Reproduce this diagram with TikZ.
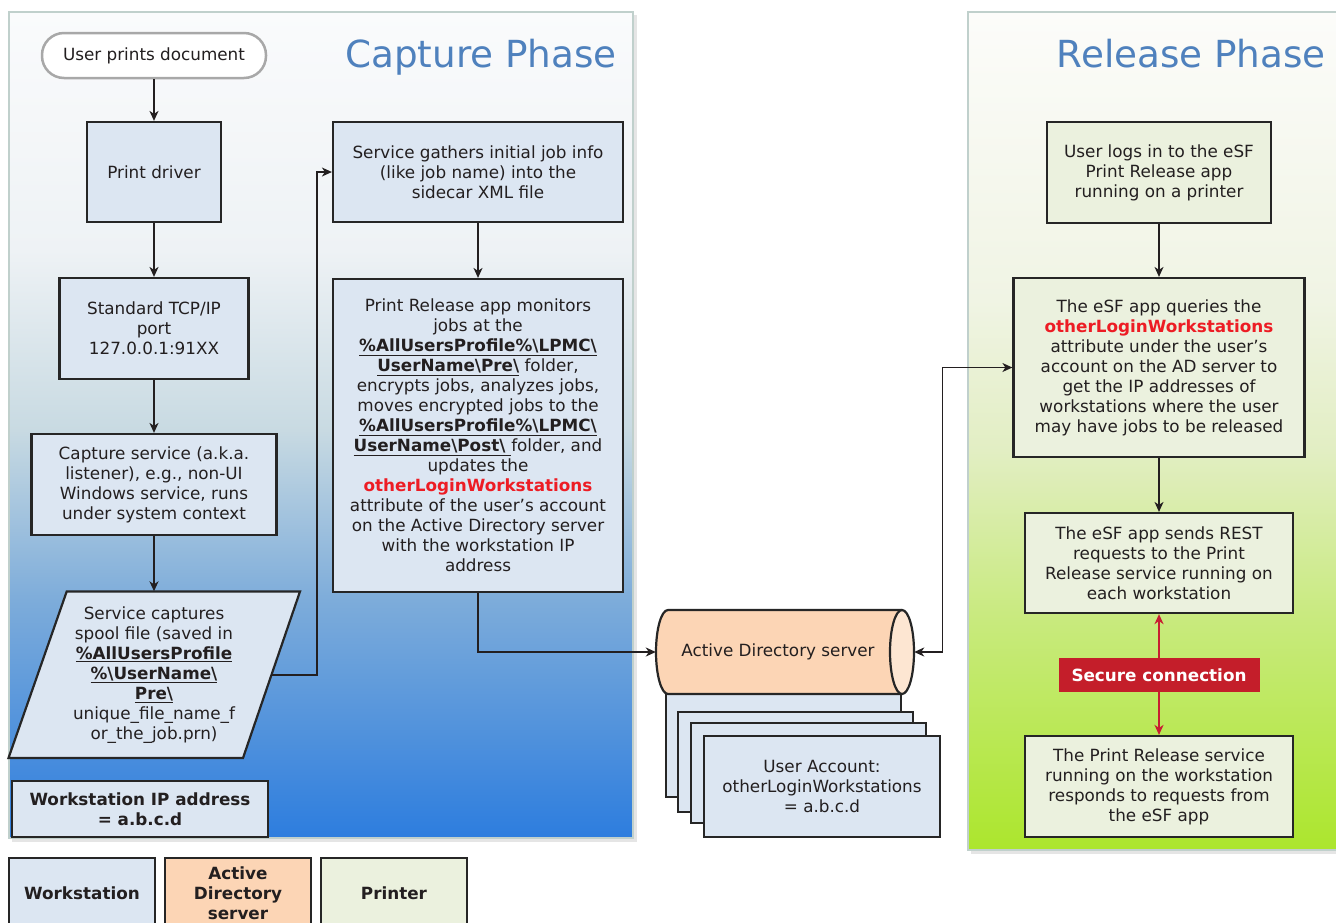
\documentclass[tikz,border=0pt]{standalone}
\usepackage{fontspec}
\setmainfont{DejaVu Sans}
\usetikzlibrary{arrows.meta,calc}
\definecolor{txt}{RGB}{35,31,32}
\definecolor{edge}{RGB}{38,38,38}
\definecolor{wsfill}{RGB}{220,230,242}
\definecolor{prfill}{RGB}{235,241,222}
\definecolor{adfill}{RGB}{252,213,181}
\definecolor{adcap}{RGB}{253,230,210}
\definecolor{hotred}{RGB}{237,28,36}
\definecolor{secred}{RGB}{196,30,42}
\definecolor{arrred}{RGB}{200,30,50}
\definecolor{titleblue}{RGB}{79,129,189}
\definecolor{panelline}{RGB}{192,208,204}
\definecolor{pillline}{RGB}{168,168,168}
\definecolor{ca}{RGB}{250,251,252}
\definecolor{cb}{RGB}{238,242,245}
\definecolor{cc}{RGB}{200,218,226}
\definecolor{cd}{RGB}{125,172,218}
\definecolor{ce}{RGB}{45,125,222}
\definecolor{ra}{RGB}{252,252,250}
\definecolor{rb}{RGB}{240,244,228}
\definecolor{rc}{RGB}{226,238,195}
\definecolor{rd}{RGB}{200,234,125}
\definecolor{re}{RGB}{172,230,45}
\newcommand\bodyfont{\fontsize{16.8}{20}\selectfont}
\newcommand\hl[1]{\textcolor{hotred}{\textbf{#1}}}
\newcommand\ul[1]{\underline{\textbf{#1}}}
\begin{document}
\begin{tikzpicture}[x=1pt,y=-1pt,
  box/.style={draw=edge, line width=2.2pt, fill=wsfill, align=center, inner sep=0pt, font=\bodyfont, text=txt},
  prbox/.style={box, fill=prfill},
  plain/.style={align=center, inner sep=0pt, font=\bodyfont, text=txt},
  pill/.style={draw=pillline, line width=2.5pt, fill=white, rounded corners=22pt, align=center, inner sep=0pt, font=\bodyfont, text=txt, minimum width=224, minimum height=45},
  arr/.style={-{Stealth[length=10pt,width=9pt,inset=3pt]}, line width=1.6pt, draw=txt},
  dblarr/.style={{Stealth[length=10pt,width=9pt,inset=3pt]}-{Stealth[length=10pt,width=9pt,inset=3pt]}, line width=1.6pt, draw=txt},
  redarr/.style={-{Stealth[length=10pt,width=9pt,inset=3pt]}, line width=2.4pt, draw=arrred},
  paneltitle/.style={font=\fontsize{37.3}{42}\selectfont, text=titleblue, inner sep=0pt, anchor=base east},
  panelborder/.style={draw=panelline, line width=2.5pt}
]
\useasboundingbox (0,0) rectangle (1336,922);
\clip (0,0) rectangle (1336,922);
\fill[white] (0,0) rectangle (1336,922);

% Capture panel
\fill[black!10] (12,15) rectangle (637,842);
\shade[top color=ca, bottom color=cb] (9,12) rectangle (633,250.5);
\shade[top color=cb, bottom color=cc] (9,250) rectangle (633,430.5);
\shade[top color=cc, bottom color=cd] (9,430) rectangle (633,600.5);
\shade[top color=cd, bottom color=ce] (9,600) rectangle (633,838);
\draw[panelborder] (9,12) rectangle (633,838);
\node[paneltitle] (captitle) at (617,67) {Capture Phase};

% Release panel
\fill[black!10] (971,15) rectangle (1345,854);
\shade[top color=ra, bottom color=rb] (968,12) rectangle (1345,300.5);
\shade[top color=rb, bottom color=rc] (968,300) rectangle (1345,450.5);
\shade[top color=rc, bottom color=rd] (968,450) rectangle (1345,620.5);
\shade[top color=rd, bottom color=re] (968,620) rectangle (1345,850);
\draw[panelborder] (968,12) rectangle (1350,850);
\node[paneltitle] (reltitle) at (1326,67) {Release Phase};

% Capture nodes
\node[pill] (user) at (154,55.5) {User prints document};
\node[box, minimum width=134, minimum height=100] (driver) at (154,172) {Print driver};
\node[box, minimum width=189, minimum height=101] (tcp) at (154,328.5) {Standard TCP/IP\\port\\127.0.0.1:91XX};
\node[box, minimum width=245, minimum height=101] (capt) at (154,484.5) {Capture service (a.k.a.\\listener), e.g., non-UI\\Windows service, runs\\under system context};
\draw[draw=edge, line width=2.2pt, fill=wsfill] (66.7,591.5) -- (300,591.5) -- (243,758) -- (8.5,758) -- cycle;
\node[plain, minimum width=234, minimum height=166.5] (para) at (154,674.75) {Service captures\\spool file (saved in\\\ul{\%AllUsersProfile}\\\ul{\%\textbackslash UserName\textbackslash}\\\ul{Pre\textbackslash}\\unique\_file\_name\_f\\or\_the\_job.prn)};
\node[box, minimum width=256, minimum height=56, font=\bodyfont\bfseries] (wsip) at (140,809) {Workstation IP address\\= a.b.c.d};
\node[box, minimum width=290, minimum height=100] (gather) at (478,172) {Service gathers initial job info\\(like job name) into the\\sidecar XML file};
\node[box, minimum width=290, minimum height=313] (monitor) at (478,435.5) {Print Release app monitors\\jobs at the\\\ul{\%AllUsersProfile\%\textbackslash LPMC\textbackslash}\\\ul{UserName\textbackslash Pre\textbackslash} folder,\\encrypts jobs, analyzes jobs,\\moves encrypted jobs to the\\\ul{\%AllUsersProfile\%\textbackslash LPMC\textbackslash}\\\ul{UserName\textbackslash Post\textbackslash\ }folder, and\\updates the\\\hl{otherLoginWorkstations}\\attribute of the user’s account\\on the Active Directory server\\with the workstation IP\\address};

% Account stack
\node[box, minimum width=235, minimum height=104] (acc1) at (783.5,745) {};
\node[box, minimum width=235, minimum height=100] (acc2) at (795.5,762) {};
\node[box, minimum width=235, minimum height=100] (acc3) at (808.5,773) {};
\node[box, minimum width=236, minimum height=101] (acc4) at (822,786.5) {User Account:\\otherLoginWorkstations\\= a.b.c.d};

% AD cylinder
\fill[adfill] (668,610) -- (902,610) -- (902,694) -- (668,694) arc[start angle=90, end angle=270, x radius=12, y radius=42] -- cycle;
\draw[edge, line width=2.2pt] (902,610) -- (668,610) arc[start angle=270, end angle=90, x radius=12, y radius=42] -- (902,694);
\draw[edge, line width=2.2pt, fill=adcap] (902,652) ellipse [x radius=12, y radius=42];
\node[plain, minimum width=258, minimum height=84] (ad) at (785,652) {\hspace*{-14pt}Active Directory server};

% Release nodes
\node[prbox, minimum width=224, minimum height=101] (login) at (1159,172.5) {User logs in to the eSF\\Print Release app\\running on a printer};
\node[prbox, minimum width=291, minimum height=179] (query) at (1159,367.5) {The eSF app queries the\\\hl{otherLoginWorkstations}\\attribute under the user’s\\account on the AD server to\\get the IP addresses of\\workstations where the user\\may have jobs to be released};
\node[prbox, minimum width=268, minimum height=100] (rest) at (1159,563) {The eSF app sends REST\\requests to the Print\\Release service running on\\each workstation};
\node[prbox, minimum width=268, minimum height=101] (resp) at (1159,786.5) {The Print Release service\\running on the workstation\\responds to requests from\\the eSF app};
\node[fill=secred, text=white, font=\bodyfont\bfseries, minimum width=201, minimum height=34, inner sep=0pt] (secure) at (1159,675) {Secure connection};

% Legend
\node[box, minimum width=146, minimum height=70, font=\bodyfont\bfseries] (lws) at (82,893) {Workstation};
\node[box, fill=adfill, minimum width=146, minimum height=70, font=\bodyfont\bfseries] (lad) at (238,893) {Active\\Directory\\server};
\node[prbox, minimum width=146, minimum height=70, font=\bodyfont\bfseries] (lpr) at (394,893) {Printer};

% Connectors
\draw[arr] (user.south) -- (driver.north);
\draw[arr] (driver.south) -- (tcp.north);
\draw[arr] (tcp.south) -- (capt.north);
\draw[arr] (capt.south) -- (para.north);
\draw[arr] (para.east) -- ++(46,0) |- (gather.west);
\draw[arr] (gather.south) -- (monitor.north);
\draw[arr] (monitor.south) |- (ad.west);
\draw[dblarr] (query.west) -- ++(-70,0) |- (ad.east);
\draw[arr] (login.south) -- (query.north);
\draw[arr] (query.south) -- (rest.north);
\draw[redarr] (secure.north) -- (rest.south);
\draw[redarr] (secure.south) -- (resp.north);
\end{tikzpicture}
\end{document}
